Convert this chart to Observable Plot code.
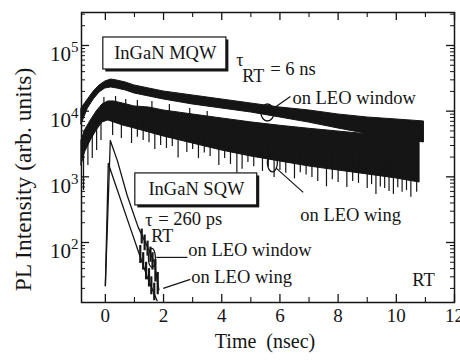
<!DOCTYPE html>
<html>
<head>
<meta charset="utf-8">
<script src="https://cdn.jsdelivr.net/npm/d3@7"></script>
<script src="https://cdn.jsdelivr.net/npm/@observablehq/plot@0.6"></script>
<style>
  body { margin: 0; background: #fff; }
</style>
</head>
<body>
<div id="chart"></div>
<script>
// ---- InGaN MQW, on LEO window: noisy trace as a lower/upper envelope (arb. units)
const mqwWinT  = [-0.82, -0.6, -0.4, -0.2, 0, 0.2, 0.4, 0.7, 1, 1.5, 2, 3, 4, 5, 6, 7, 8, 9, 10, 10.95];
const mqwWinHi = [10990, 15070, 19940, 24620, 28310, 30380, 29330, 27340, 24620, 22160, 19940, 17340, 15070, 13100, 11380, 10250, 8910, 8020, 7470, 6970];
const mqwWinLo = [6275, 10990, 15070, 19260, 22160, 22950, 22160, 20660, 18600, 16740, 15070, 12650, 10990, 9560, 8020, 6700, 5455, 4500, 3800, 3340];

// ---- InGaN MQW, on LEO wing
const mqwWingT  = [-0.82, -0.7, -0.5, -0.3, -0.1, 0.1, 0.3, 0.6, 1, 1.5, 2, 3, 4, 5, 6, 7, 8, 9, 10, 10.8];
const mqwWingHi = [3580, 5085, 7220, 9890, 12650, 14050, 14050, 13100, 11790, 11380, 10250, 8910, 7750, 6750, 6000, 5400, 4900, 4450, 4000, 3700];
const mqwWingLo = [1490, 2350, 3580, 5085, 6730, 7220, 6730, 6060, 5455, 4740, 4120, 3220, 2520, 2045, 1715, 1440, 1250, 1090, 945, 820];

// downward noise spikes of the wing trace
const wingDipT = [-0.75, -0.6, -0.45, -0.3, -0.15, 0.25, 0.55, 0.9, 1.1, 1.3, 1.5, 1.7, 1.9, 2.1, 2.3, 2.5, 2.8, 3.0, 3.2, 3.4, 3.6, 3.9, 4.1, 4.3, 4.52, 4.7, 4.9, 5.1, 5.4, 5.6, 5.8, 6.0, 6.2, 6.5, 6.7, 6.9, 7.1, 7.3, 7.6, 7.8, 8.0, 8.3, 8.5, 8.7, 9.0, 9.15, 9.3, 9.45, 9.6, 9.75, 9.9, 10.05, 10.2, 10.35, 10.5, 10.7];
const wingDipV = [620, 1490, 1900, 2520, 3580, 4270, 3840, 3220, 4000, 3580, 3300, 2610, 3000, 2700, 2900, 1940, 2350, 2600, 1905, 2300, 2045, 1490, 1900, 1545, 1130, 1300, 1650, 1420, 1210, 1400, 980, 1250, 1130, 930, 1150, 1070, 980, 850, 705, 900, 820, 690, 850, 795, 665, 760, 540, 700, 665, 600, 540, 680, 580, 620, 490, 580];
// upward noise spikes of the wing trace
const wingPeakT = [-0.05, 0.35, 0.7, 1.1, 1.6, 2.2, 2.9, 3.5];
const wingPeakV = [16160, 16740, 15070, 14550, 14050, 12650, 10990, 9890];

// ---- InGaN SQW decays
const sqwWinT  = [0.0, 0.17, 0.41, 0.75, 1.13, 1.5, 1.68, 1.84];
const sqwWinV  = [22, 3580, 1780, 520, 170, 76, 50, 19];
const sqwWingT = [0.0, 0.1, 0.3, 0.85, 1.12, 1.45, 1.62, 1.78];
const sqwWingV = [22, 1600, 880, 170, 76, 29, 19, 13];
// noisy tails of the SQW decays
const sqwNoiseT  = [1.25, 1.35, 1.45, 1.55, 1.62, 1.72, 1.80, 1.20, 1.30, 1.40, 1.50, 1.58, 1.68];
const sqwNoiseLo = [95, 75, 62, 50, 38, 25, 16, 48, 38, 27, 21, 16, 13];
const sqwNoiseHi = [160, 130, 105, 85, 70, 55, 35, 90, 70, 50, 40, 30, 24];

// ---- axes
const xDomain = [-0.82, 12];
const yDomain = [12.2, 3.18e5];
const xMajor = [0, 2, 4, 6, 8, 10, 12];
const xMinor = [1, 3, 5, 7, 9, 11];
const yMajor = [1e2, 1e3, 1e4, 1e5];
const yMinor = d3.range(1, 6)
  .flatMap(e => d3.range(2, 10).map(m => m * 10 ** e))
  .filter(v => v > yDomain[0] && v < yDomain[1]);

// ---- annotations
const boxes = [
  {x1: -0.07, x2: 4.16, y1: 43100, y2: 132400, label: "InGaN MQW", lx: 2.06, ly: 75500},
  {x1: 1.03,  x2: 5.22, y1: 367,   y2: 1127,   label: "InGaN SQW", lx: 3.13, ly: 643}
];
const curveLabels = [
  {t: 6.43, v: 15900, text: "on LEO window"},
  {t: 6.70, v: 258,   text: "on LEO wing"},
  {t: 2.85, v: 75.8,  text: "on LEO window"},
  {t: 2.95, v: 29.4,  text: "on LEO wing"},
  {t: 10.55, v: 26.5, text: "RT"}
];
const pointers = [
  {t1: 5.77, v1: 11000, t2: 6.36, v2: 16750},
  {t1: 5.88, v1: 1343,  t2: 6.80, v2: 579},
  {t1: 1.75, v1: 59.3,  t2: 2.82, v2: 59.3},
  {t1: 1.99, v1: 20.0,  t2: 2.92, v2: 27.4}
];
const rings = [
  {t: 5.57, v: 9550, rx: 6.5, ry: 8.5},
  {t: 5.74, v: 1656, rx: 5,   ry: 9.5},
  {t: 1.60, v: 58.3, rx: 3.5, ry: 9.5}
];
const lifetimes = [
  {t: 4.50, v: 59200, value: "= 6 ns"},
  {t: 1.37, v: 217,   value: "= 260 ps"}
];

const W = 460, H = 360;
const M = {top: 12, right: 6, bottom: 58, left: 81};
const plotW = W - M.left - M.right;
const plotH = H - M.top - M.bottom;
const ink = "#151515";
const serifFace = "Liberation Serif";

const band = (ts, lo, hi) => ts.map((t, i) => ({t, lo: lo[i], hi: hi[i]}));
const series = (ts, vs) => ts.map((t, i) => ({t, v: vs[i]}));

// log-space interpolation of an envelope, used to anchor noise spikes on the band
function atTime(ts, vs, t) {
  const i = Math.max(0, Math.min(ts.length - 2, d3.bisectRight(ts, t) - 1));
  const f = (t - ts[i]) / (ts[i + 1] - ts[i]);
  return Math.exp(Math.log(vs[i]) * (1 - f) + Math.log(vs[i + 1]) * f);
}
const wingMid = t => Math.sqrt(atTime(mqwWingT, mqwWingHi, t) * atTime(mqwWingT, mqwWingLo, t));

const winBand = band(mqwWinT, mqwWinLo, mqwWinHi);
const wingBand = band(mqwWingT, mqwWingLo, mqwWingHi);
const wingSpikes = [
  ...wingDipT.map((t, i) => ({t, a: wingDipV[i], b: wingMid(t)})),
  ...wingPeakT.map((t, i) => ({t, a: wingPeakV[i], b: wingMid(t)}))
];
const sqwNoise = sqwNoiseT.map((t, i) => ({t, lo: sqwNoiseLo[i], hi: sqwNoiseHi[i]}));

const txt = {fontFamily: serifFace, fill: ink};

const chart = Plot.plot({
  width: W, height: H,
  marginTop: M.top, marginRight: M.right, marginBottom: M.bottom, marginLeft: M.left,
  style: {background: "white"},
  x: {domain: xDomain},
  y: {type: "log", domain: yDomain},
  marks: [
    // MQW traces
    Plot.areaY(winBand, {x: "t", y1: "lo", y2: "hi", fill: ink, stroke: ink, strokeWidth: 1}),
    Plot.areaY(wingBand, {x: "t", y1: "lo", y2: "hi", fill: ink, stroke: ink, strokeWidth: 1}),
    Plot.ruleX(wingSpikes, {x: "t", y1: "a", y2: "b", stroke: ink, strokeWidth: 1.2}),

    // SQW traces
    Plot.line(series(sqwWinT, sqwWinV), {x: "t", y: "v", stroke: ink, strokeWidth: 1.3}),
    Plot.line(series(sqwWingT, sqwWingV), {x: "t", y: "v", stroke: ink, strokeWidth: 1.3}),
    Plot.ruleX(sqwNoise, {x: "t", y1: "lo", y2: "hi", stroke: ink, strokeWidth: 2.2}),

    // labelled boxes with drop shadow
    Plot.rect(boxes, {x1: "x1", x2: "x2", y1: "y1", y2: "y2", fill: ink, dx: 2.5, dy: 2.5}),
    Plot.rect(boxes, {x1: "x1", x2: "x2", y1: "y1", y2: "y2", fill: "white", stroke: ink, strokeWidth: 1.2}),
    Plot.text(boxes, {...txt, x: "lx", y: "ly", text: "label", fontSize: 18.5}),

    // lifetimes: tau, subscript RT, value
    Plot.text(lifetimes, {...txt, x: "t", y: "v", text: () => "τ", textAnchor: "start", fontSize: 18}),
    Plot.text(lifetimes, {...txt, x: "t", y: "v", text: () => "RT", textAnchor: "start", fontSize: 18, dx: 6, dy: 16}),
    Plot.text(lifetimes.slice(0, 1), {...txt, x: "t", y: "v", text: "value", textAnchor: "start", fontSize: 18.5, dx: 34, dy: 9}),
    Plot.text(lifetimes.slice(1), {...txt, x: "t", y: "v", text: "value", textAnchor: "start", fontSize: 18.5, dx: 13, dy: -1}),

    // curve labels and pointers
    Plot.text(curveLabels, {...txt, x: "t", y: "v", text: "text", textAnchor: "start", fontSize: 18.5}),
    Plot.link(pointers, {x1: "t1", y1: "v1", x2: "t2", y2: "v2", stroke: ink, strokeWidth: 1.2}),
    Plot.dot(rings, {x: "t", y: "v", r: 1, stroke: ink, strokeWidth: 1.3, fill: "none"}),

    // frame and inward ticks on all four sides
    Plot.frame({stroke: ink, strokeWidth: 1.5}),
    Plot.tickY(yMajor, {y: d => d, insetRight: plotW - 8, stroke: ink, strokeWidth: 1.3}),
    Plot.tickY(yMajor, {y: d => d, insetLeft: plotW - 8, stroke: ink, strokeWidth: 1.3}),
    Plot.tickY(yMinor, {y: d => d, insetRight: plotW - 4, stroke: ink, strokeWidth: 1}),
    Plot.tickY(yMinor, {y: d => d, insetLeft: plotW - 4, stroke: ink, strokeWidth: 1}),
    Plot.tickX(xMajor, {x: d => d, insetTop: plotH - 8, stroke: ink, strokeWidth: 1.3}),
    Plot.tickX(xMajor, {x: d => d, insetBottom: plotH - 8, stroke: ink, strokeWidth: 1.3}),
    Plot.tickX(xMinor, {x: d => d, insetTop: plotH - 5, stroke: ink, strokeWidth: 1.1}),
    Plot.tickX(xMinor, {x: d => d, insetBottom: plotH - 5, stroke: ink, strokeWidth: 1.1}),

    // tick labels
    Plot.axisX(xMajor, {...txt, tickSize: 0, tickPadding: 6, fontSize: 19, label: null}),
    Plot.axisY(yMajor, {...txt, tickSize: 0, tickPadding: 3, fontSize: 21, label: null, dy: 9,
      tickFormat: d => String(Math.round(Math.log10(d)))}),

    // axis titles
    Plot.text(["Time\u00a0\u00a0(nsec)"], {...txt, frameAnchor: "bottom", text: d => d,
      textAnchor: "middle", lineAnchor: "middle", dx: -3, dy: 39, fontSize: 20}),
    Plot.text(["PL Intensity (arb. units)"], {...txt, frameAnchor: "left", text: d => d, rotate: -90,
      textAnchor: "middle", lineAnchor: "middle", dx: -58, dy: 22, fontSize: 23.5})
  ]
});

const svg = d3.select(chart);
svg.selectAll("text").style("font-family", "'Liberation Serif', serif");

// powers of ten as superscripts
svg.selectAll('g[aria-label="y-axis tick label"] text').each(function () {
  const exp = this.textContent;
  const t = d3.select(this).text(null);
  t.append("tspan").text("10");
  t.append("tspan").attr("dy", -9).attr("font-size", 15).text(exp);
});

// pointer rings are drawn as ellipses
svg.selectAll('g[aria-label="dot"] circle').each(function (d, i) {
  const c = d3.select(this);
  const cx = +c.attr("cx"), cy = +c.attr("cy");
  c.attr("vector-effect", "non-scaling-stroke")
   .attr("transform", `translate(${cx},${cy}) scale(${rings[i].rx},${rings[i].ry}) translate(${-cx},${-cy})`);
});

document.getElementById("chart").appendChild(chart);
</script>
</body>
</html>
